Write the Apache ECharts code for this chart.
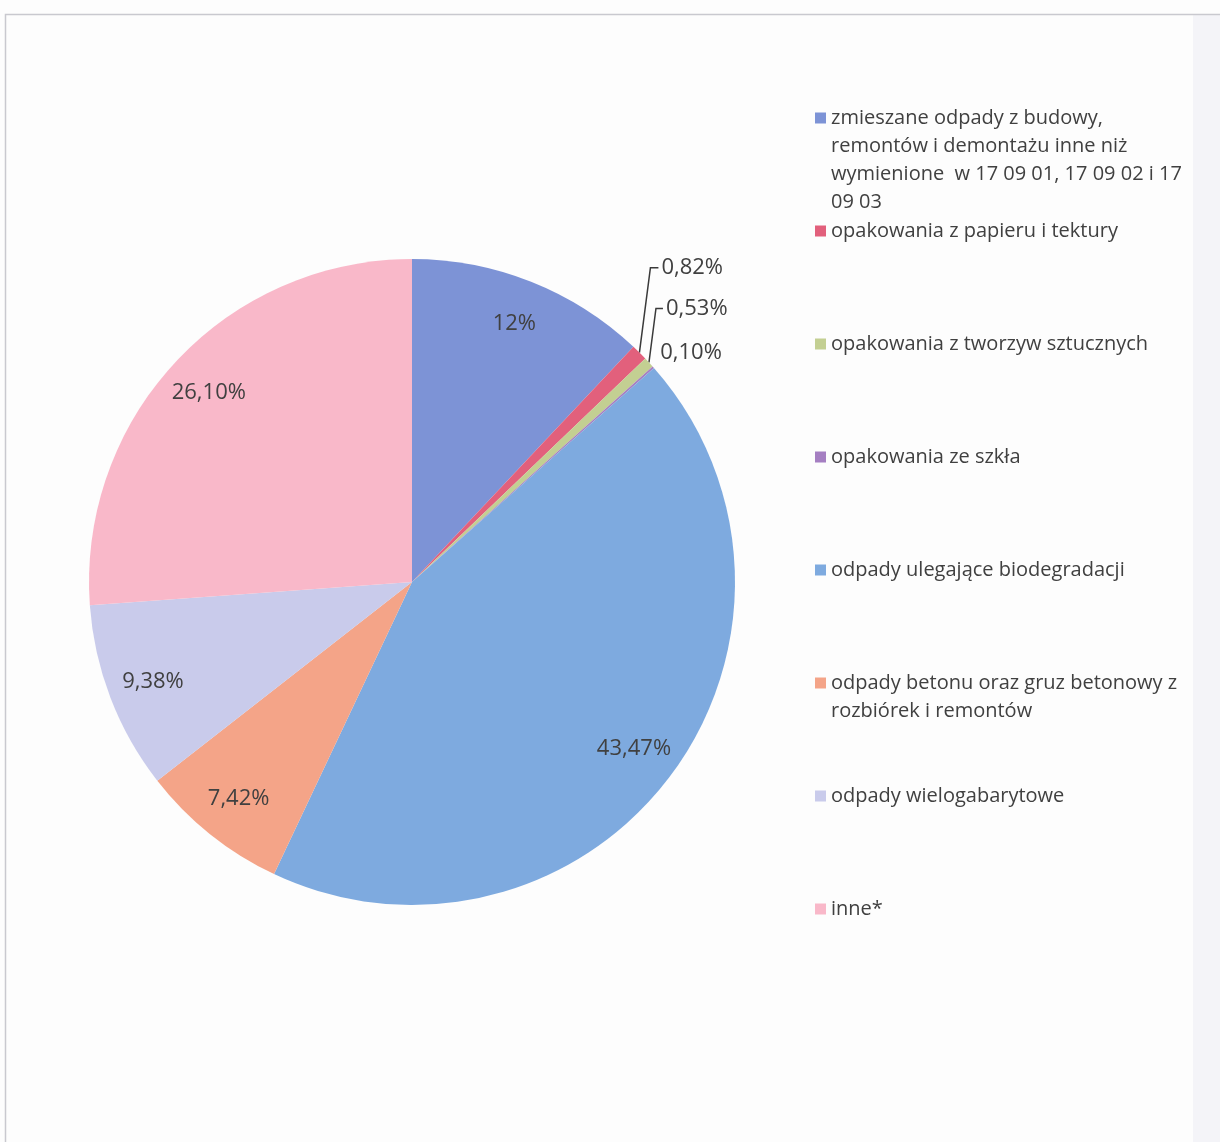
<!DOCTYPE html>
<html>
<head>
<meta charset="utf-8">
<script src="https://cdn.jsdelivr.net/npm/echarts@6/dist/echarts.min.js"></script>
<style>
html,body{margin:0;padding:0;background:#fdfdfd;}
#c{width:1220px;height:1142px;}
</style>
</head>
<body>
<div id="c"></div>
<script>
const categories = [
  'zmieszane odpady z budowy, remontów i demontażu inne niż wymienione  w 17 09 01, 17 09 02 i 17 09 03',
  'opakowania z papieru i tektury',
  'opakowania z tworzyw sztucznych',
  'opakowania ze szkła',
  'odpady ulegające biodegradacji',
  'odpady betonu oraz gruz betonowy z rozbiórek i remontów',
  'odpady wielogabarytowe',
  'inne*'
];
const values = [12, 0.82, 0.53, 0.10, 43.47, 7.42, 9.38, 26.10];
const valueLabels = ['12%', '0,82%', '0,53%', '0,10%', '43,47%', '7,42%', '9,38%', '26,10%'];
const colors = ['#7d93d6', '#e2607c', '#c3cf92', '#a57fc2', '#7eaadf', '#f4a488', '#c9cbeb', '#f9b8c9'];
// legend first-line text and continuation lines
const legendFirstLines = [
  'zmieszane odpady z budowy,',
  'opakowania z papieru i tektury',
  'opakowania z tworzyw sztucznych',
  'opakowania ze szkła',
  'odpady ulegające biodegradacji',
  'odpady betonu oraz gruz betonowy z',
  'odpady wielogabarytowe',
  'inne*'
];
const legendMoreLines = [
  ['remontów i demontażu inne niż', 'wymienione  w 17 09 01, 17 09 02 i 17', '09 03'],
  [], [], [], [],
  ['rozbiórek i remontów'],
  [], []
];

const FONT = 'Open Sans';
const TXT = '#404040';
const LEG_FS = 20;
const LAB_FS = 22;
const cx = 412, cy = 582, R = 323;
const legendLeft = 815, legendTop0 = 118, legendStep = 113, lineH = 28, textX = 831;

// offsets of the small outside labels relative to the slice edge point (dx, dy, line elbow dx)
const smallLabelOffsets = {
  1: { dx: 22, dy: -85, elbow: 11, line: true },
  2: { dx: 17, dy: -54, elbow: 7, line: true },
  3: { dx: 7, dy: -15, elbow: 0, line: false }
};

const legends = categories.map((name, i) => ({
  data: [name],
  orient: 'vertical',
  left: legendLeft,
  top: legendTop0 + i * legendStep - lineH / 2,
  padding: 0,
  itemWidth: 11,
  itemHeight: 11,
  itemGap: 0,
  icon: 'rect',
  selectedMode: false,
  formatter: () => legendFirstLines[i],
  textStyle: { fontFamily: FONT, fontSize: LEG_FS, color: TXT, lineHeight: lineH }
}));

const moreTexts = [];
legendMoreLines.forEach((lines, i) => {
  lines.forEach((t, k) => {
    moreTexts.push({
      type: 'text',
      left: textX,
      top: legendTop0 + i * legendStep + (k + 1) * lineH - lineH / 2,
      style: { text: t, fontFamily: FONT, fontSize: LEG_FS, fill: TXT, lineHeight: lineH, textVerticalAlign: 'top' }
    });
  });
});

const pieData = categories.map((name, i) => ({
  name, value: values[i],
  itemStyle: { color: colors[i] },
  label: { show: values[i] < 1 },
  labelLine: { show: values[i] < 1 }
}));
const labelData = categories.map((name, i) => ({
  name, value: values[i],
  label: { show: values[i] >= 1 }
}));

const chart = echarts.init(document.getElementById('c'));
chart.setOption({
  animation: false,
  backgroundColor: '#fdfdfd',
  legend: legends,
  graphic: [
    { type: 'rect', silent: true, shape: { x: 1193, y: 15, width: 30, height: 1130 }, style: { fill: '#f4f4f8' } },
    { type: 'rect', silent: true, shape: { x: 5.5, y: 14.5, width: 1400, height: 1400 }, style: { fill: 'none', stroke: '#c9c9cf', lineWidth: 1.5 } }
  ].concat(moreTexts),
  series: [
    {
      type: 'pie',
      center: [cx, cy],
      radius: [0, R],
      startAngle: 90,
      clockwise: true,
      silent: true,
      avoidLabelOverlap: false,
      itemStyle: { borderWidth: 0 },
      label: {
        position: 'outside',
        formatter: p => valueLabels[p.dataIndex],
        fontFamily: FONT, fontSize: LAB_FS, color: TXT
      },
      labelLine: { length: 10, length2: 5, lineStyle: { color: '#3a3a3a', width: 1.5 } },
      labelLayout: function (p) {
        const o = smallLabelOffsets[p.dataIndex];
        if (!o || !p.labelLinePoints) return {};
        const e = p.labelLinePoints[0];
        const lx = e[0] + o.dx, ly = e[1] + o.dy;
        const pts = o.line
          ? [[e[0], e[1]], [e[0] + o.elbow, ly], [lx - 3, ly]]
          : [[e[0], e[1]], [e[0], e[1]], [e[0], e[1]]];
        return { x: lx, y: ly, align: 'left', verticalAlign: 'middle', labelLinePoints: pts };
      },
      data: pieData
    },
    {
      type: 'pie',
      center: [cx, cy],
      radius: [R * 0.7, R],
      startAngle: 90,
      clockwise: true,
      silent: true,
      itemStyle: { color: 'rgba(0,0,0,0)', borderWidth: 0 },
      label: {
        position: 'inside',
        formatter: p => valueLabels[p.dataIndex],
        fontFamily: FONT, fontSize: LAB_FS, color: TXT
      },
      labelLine: { show: false },
      data: labelData
    }
  ]
});
</script>
</body>
</html>
